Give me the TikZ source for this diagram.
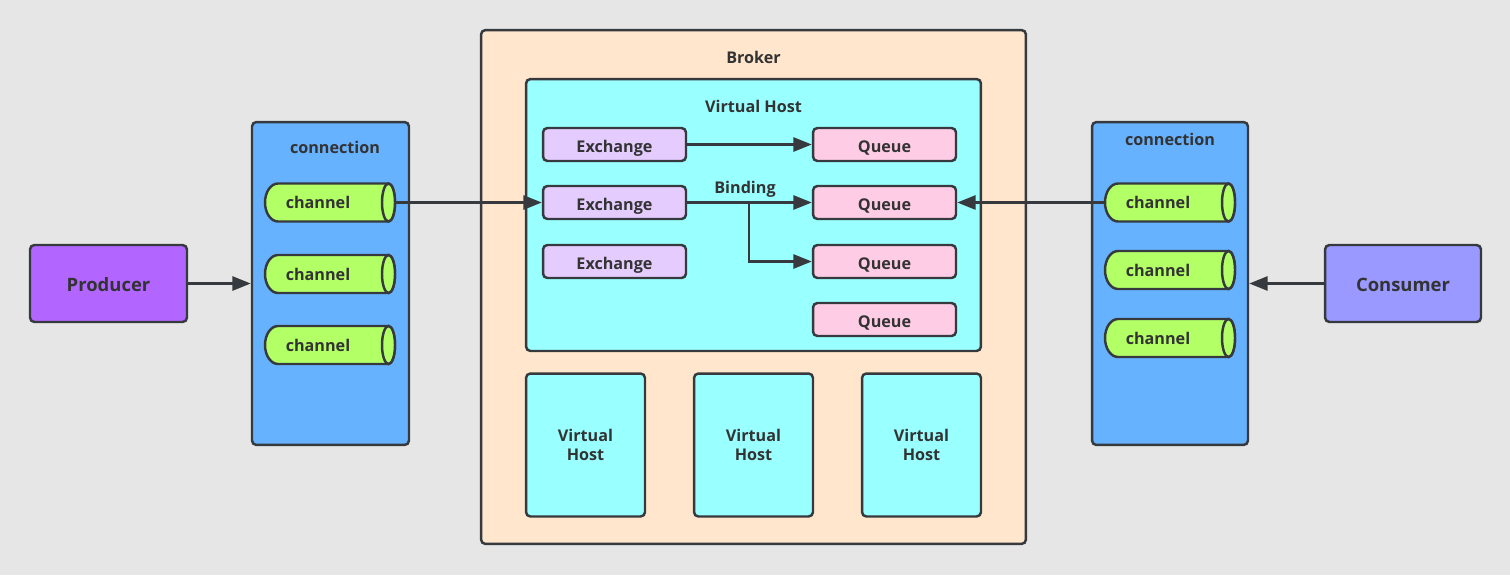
\documentclass[tikz,border=0pt]{standalone}
\usepackage{fontspec}
\setmainfont{Open Sans}
\usepackage{tikz}
\usetikzlibrary{arrows.meta}

\definecolor{bggray}{HTML}{E6E6E6}
\definecolor{linedark}{HTML}{36393D}
\definecolor{txtdark}{HTML}{333333}
\definecolor{prodfill}{HTML}{B266FF}
\definecolor{consfill}{HTML}{9999FF}
\definecolor{connfill}{HTML}{66B2FF}
\definecolor{chanfill}{HTML}{B3FF66}
\definecolor{brokfill}{HTML}{FFE6CC}
\definecolor{vhfill}{HTML}{99FFFF}
\definecolor{exfill}{HTML}{E5CCFF}
\definecolor{qfill}{HTML}{FFCCE6}

% horizontal pipe: name, x, y
\newcommand{\chanpipe}[3]{%
  \filldraw[chanline] (#2+58.5,#3-19) -- (#2-52,#3-19)
    arc[start angle=90, end angle=270, x radius=0.26cm, y radius=0.38cm]
    -- (#2+58.5,#3+19)
    arc[start angle=-90, end angle=90, x radius=0.13cm, y radius=0.38cm] -- cycle;
  \draw[chanline] (#2+58.5,#3) ellipse[x radius=0.13cm, y radius=0.38cm];
  \node[inner sep=0pt, minimum width=2.6cm, minimum height=0.76cm] (#1) at (#2,#3) {};
  \node (#1-txt) at (#2-12,#3) {channel};
}

\begin{document}
\begin{tikzpicture}[x=0.02cm, y=-0.02cm, font=\bfseries\fontsize{9.2}{11}\selectfont, text=txtdark,
  box/.style={draw=linedark, line width=1.4pt, rounded corners=2.5pt, inner sep=0pt},
  lowtxt/.style={text height=9.2pt, text depth=0pt},
  chanline/.style={draw=linedark, fill=chanfill, line width=1.4pt},
  endbox/.style={box, lowtxt, minimum width=3.14cm, minimum height=1.54cm,
    font=\bfseries\fontsize{10.5}{12}\selectfont},
  exbox/.style={box, lowtxt, fill=exfill, minimum width=2.86cm, minimum height=0.66cm},
  qbox/.style={box, lowtxt, fill=qfill, minimum width=2.86cm, minimum height=0.66cm},
  smallvh/.style={box, fill=vhfill, minimum width=2.38cm, minimum height=2.86cm, align=center},
  arr/.style={-{Triangle[length=10.5pt,width=8pt]}, draw=linedark, line width=1.5pt}]
  \fill[bggray] (0,0) rectangle (1510,575);

  % producer side
  \node[endbox, fill=prodfill] (prod) at (108.5,283.5) {Producer};
  \node[box, fill=connfill, minimum width=3.14cm, minimum height=6.46cm] (connL) at (330.5,283.5) {};
  \node (connL-txt) at (335,147) {connection};
  \chanpipe{chL1}{330}{202.5}
  \chanpipe{chL2}{330}{274}
  \chanpipe{chL3}{330}{345}

  % broker
  \node[box, fill=brokfill, minimum width=10.9cm, minimum height=10.28cm] (broker) at (753.5,287) {};
  \node (broker-txt) at (753.5,57) {Broker};
  \node[box, fill=vhfill, minimum width=9.1cm, minimum height=5.44cm] (vh) at (753.5,215) {};
  \node (vh-txt) at (753.5,106) {Virtual Host};
  \node[exbox] (ex1) at (614.5,144.5) {Exchange};
  \node[exbox] (ex2) at (614.5,202.5) {Exchange};
  \node[exbox] (ex3) at (614.5,261.5) {Exchange};
  \node[qbox] (q1) at (884.5,144.5) {Queue};
  \node[qbox] (q2) at (884.5,202.5) {Queue};
  \node[qbox] (q3) at (884.5,261.5) {Queue};
  \node[qbox] (q4) at (884.5,319.5) {Queue};
  \node[text height=6.6pt, text depth=0pt] (bind-txt) at (745,188) {Binding};
  \node[smallvh] (vh2) at (585.5,445) {Virtual\\Host};
  \node[smallvh] (vh3) at (753.5,445) {Virtual\\Host};
  \node[smallvh] (vh4) at (921.5,445) {Virtual\\Host};

  % consumer side
  \node[endbox, fill=consfill, minimum width=3.12cm] (cons) at (1403,283.5) {Consumer};
  \node[box, fill=connfill, minimum width=3.12cm, minimum height=6.46cm] (connR) at (1170,283.5) {};
  \node (connR-txt) at (1170,139) {connection};
  \chanpipe{chR1}{1170}{202.5}
  \chanpipe{chR2}{1170}{270}
  \chanpipe{chR3}{1170}{338}

  % arrows
  \draw[arr] (prod.east) -- (connL.west);
  \draw[arr] (cons.west) -- (connR.east);
  \draw[arr] (chL1.east) -- (ex2.west);
  \draw[arr] (chR1.west) -- (q2.east);
  \draw[arr] (ex1.east) -- (q1.west);
  \draw[arr] (ex2.east) -- (q2.west);
  \coordinate (split) at (749,202.5);
  \draw[arr] (split) |- (q3.west);
\end{tikzpicture}
\end{document}
